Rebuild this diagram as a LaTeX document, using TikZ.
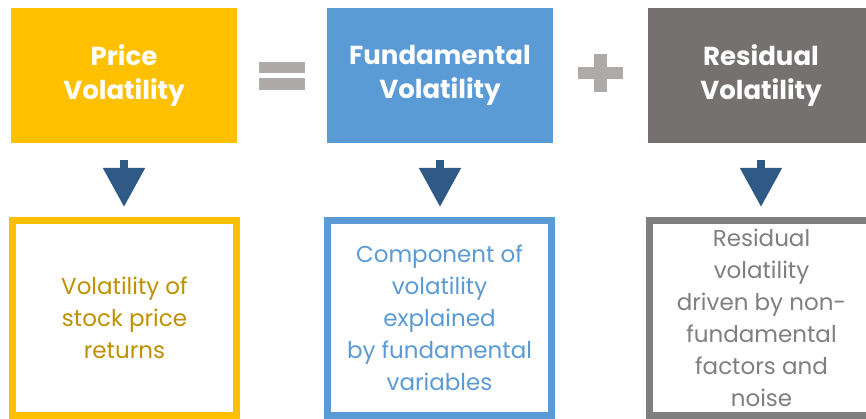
\documentclass[tikz,border=0pt]{standalone}
\usepackage{fontspec}
\setmainfont{Poppins}
\usetikzlibrary{arrows.meta}
\definecolor{gold}{HTML}{FFC000}
\definecolor{goldtext}{HTML}{BF9000}
\definecolor{sky}{HTML}{5B9BD5}
\definecolor{slate}{HTML}{767171}
\definecolor{slatetext}{HTML}{7F7F7F}
\definecolor{signgray}{HTML}{AEAAAA}
\definecolor{navy}{HTML}{2F5A86}

\begin{document}
\begin{tikzpicture}[x=1pt,y=1pt]
\tikzset{head/.style = {minimum width=226pt,minimum height=135pt,inner sep=0pt,text=white,align=center,font=\bfseries\fontsize{26}{34}\selectfont}}
\tikzset{note/.style = {draw,line width=7pt,fill=white,minimum width=224pt,minimum height=195pt,inner sep=0pt,align=center,font=\fontsize{23}{32}\selectfont}}
\tikzset{flow/.style = {draw=navy,line width=8pt,-{Triangle[length=39pt,width=40pt]},shorten <=17pt,shorten >=10pt}}
\tikzset{sign/.style = {fill=signgray}}
\useasboundingbox (0,0) rectangle (866,419);

% top row
\node[head,fill=gold] (price) at (124,343.5) {Price\\Volatility};
\node[head,fill=sky] (fund) at (440,343.5) {Fundamental\\Volatility};
\node[head,fill=slate] (resid) at (761,343.5) {Residual\\Volatility};

% = and +
\fill[sign] (259,346) rectangle (305,357);
\fill[sign] (259,329) rectangle (305,341);
\fill[sign] (578,340) rectangle (623,352);
\fill[sign] (594,327) rectangle (607,365);

% bottom row
\node[note,draw=gold,text=goldtext] (pricenote) at (124.5,101) {Volatility of\\stock price\\returns};
\node[note,draw=sky,text=sky] (fundnote) at (439.5,101) {Component of\\volatility\\explained\\by fundamental\\variables};
\node[note,draw=slatetext,text=slatetext] (residnote) at (761.5,101) {Residual\\volatility\\driven by non-\\fundamental\\factors and\\noise};

\draw[flow] (price.south) -- (price.south |- pricenote.north);
\draw[flow] (fund.south) -- (fund.south |- fundnote.north);
\draw[flow] (resid.south) -- (resid.south |- residnote.north);
\end{tikzpicture}
\end{document}
